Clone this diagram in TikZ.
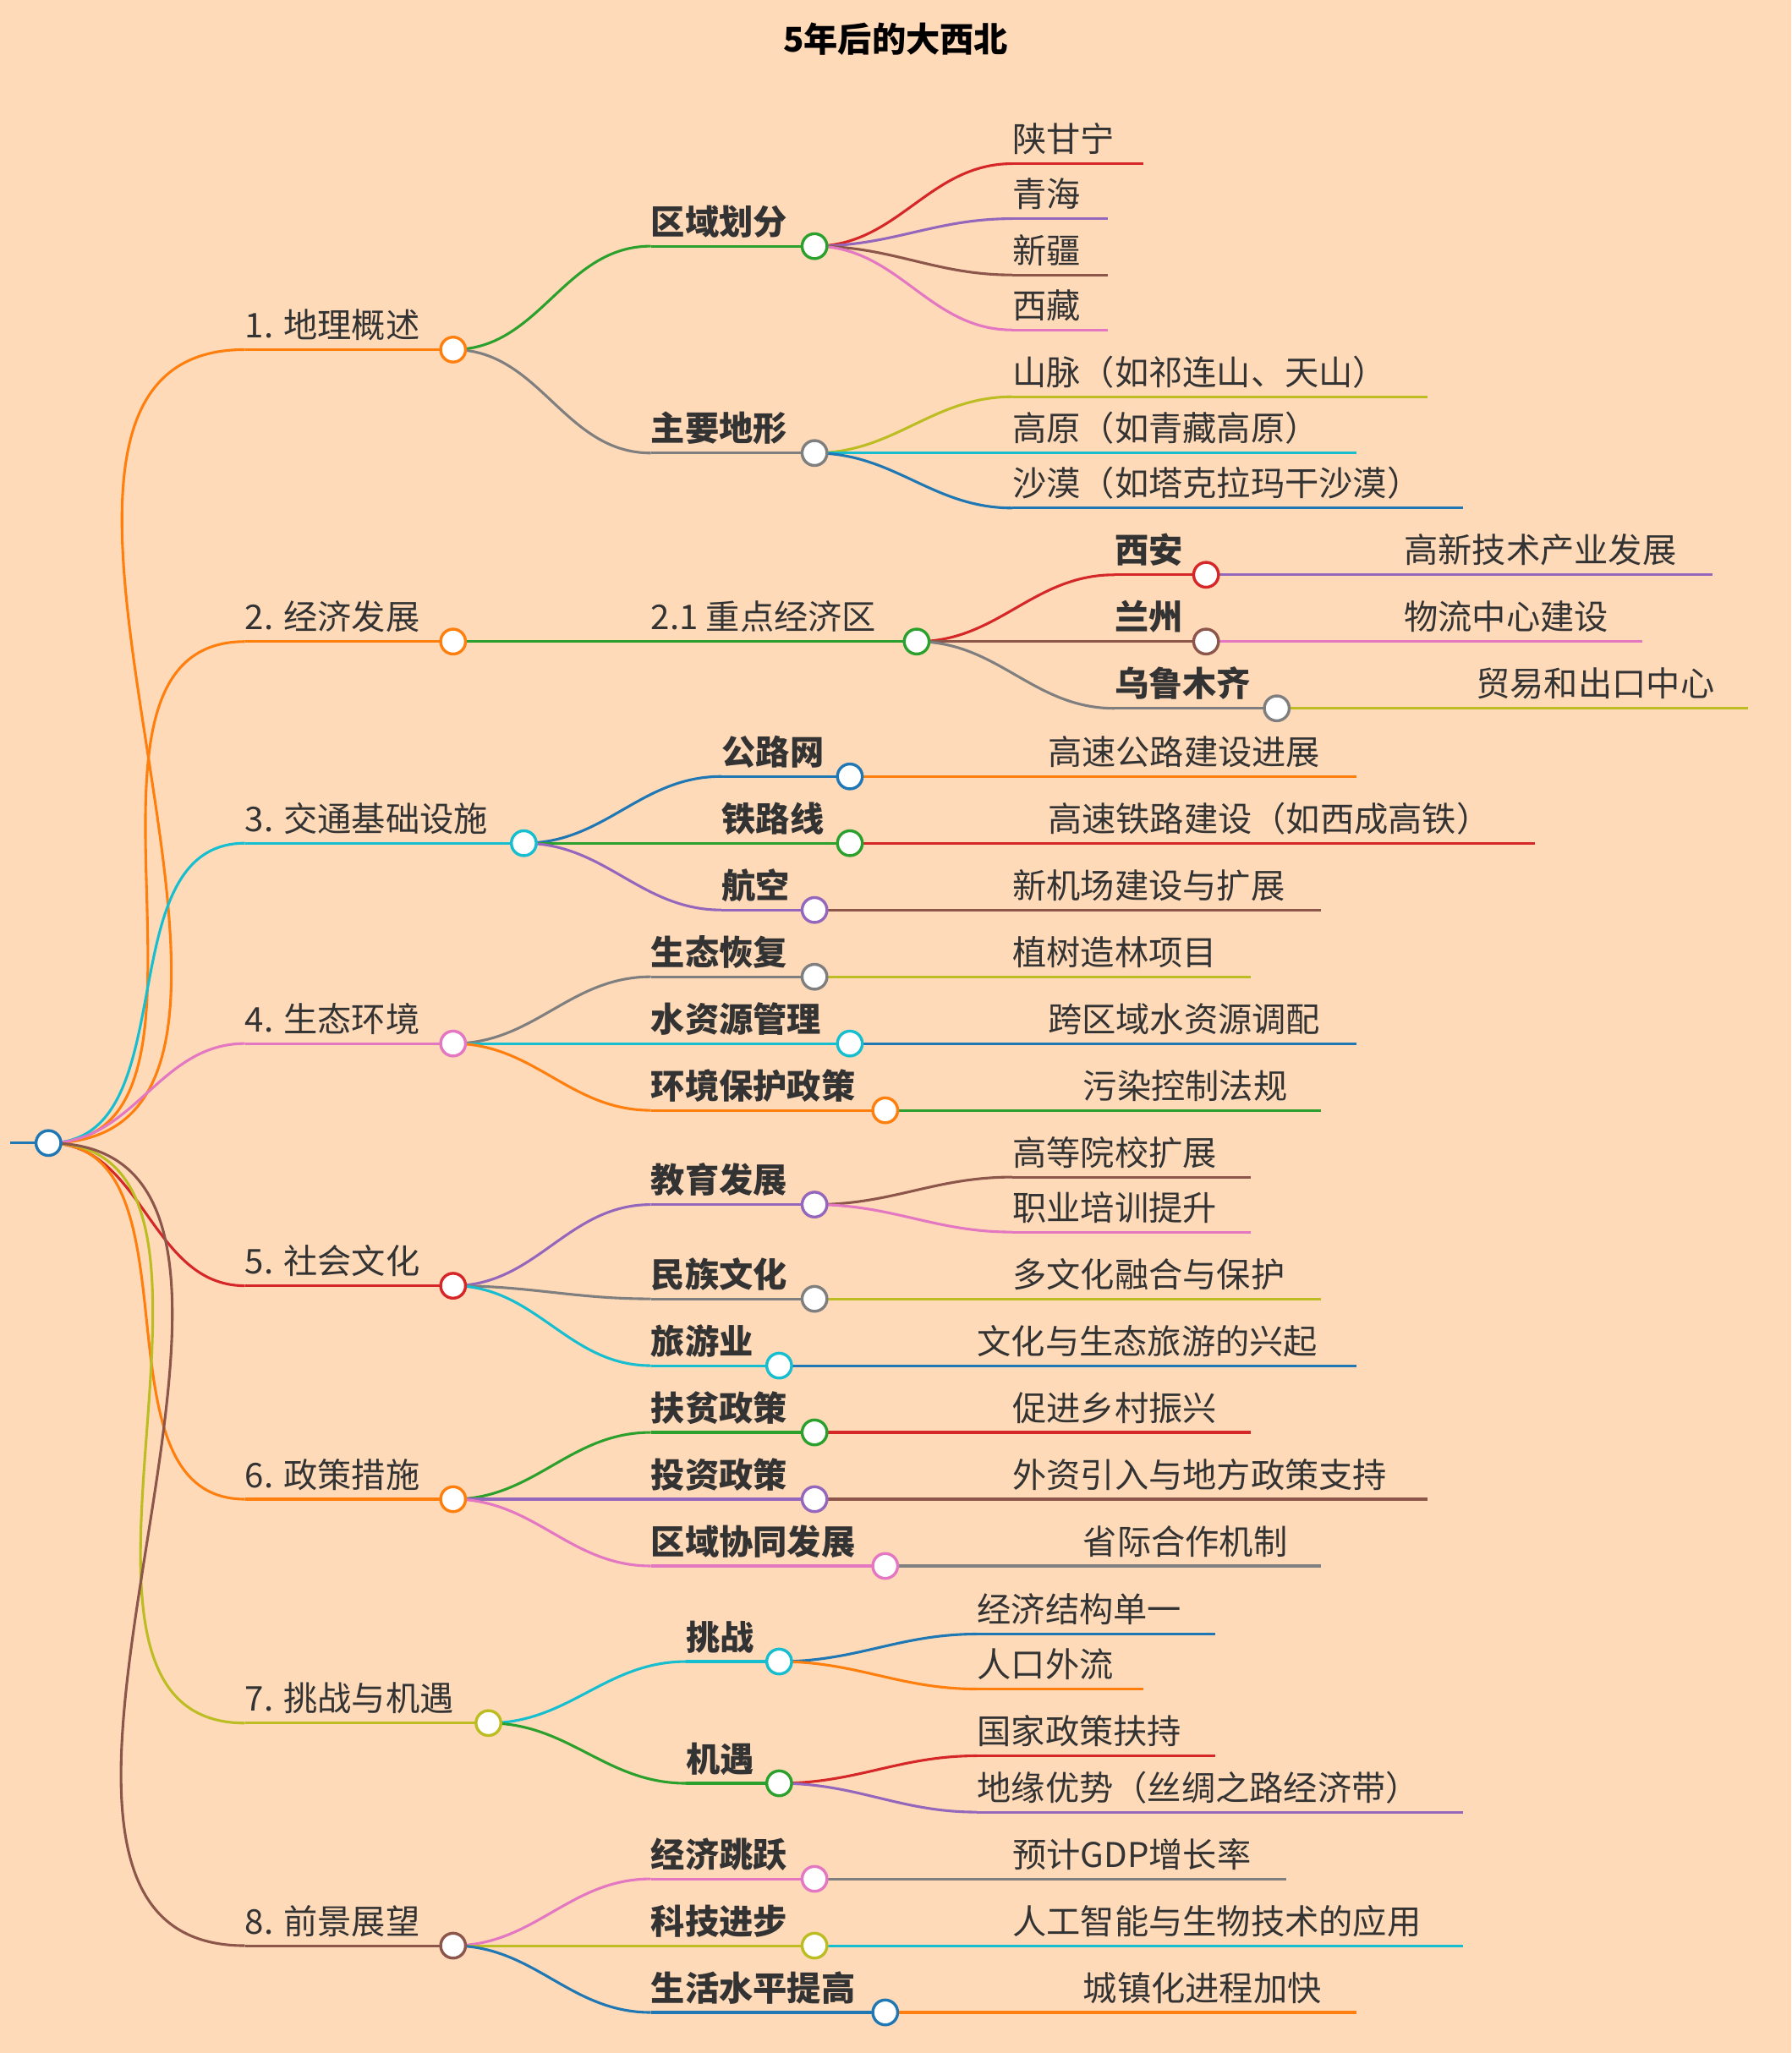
\documentclass[tikz,border=0pt]{standalone}
\usepackage{fontspec}
\setmainfont{Noto Sans CJK SC}
\begin{document}
\begin{tikzpicture}[x=1pt,y=-1pt,
 lbl/.style={anchor=base west,inner sep=0,text=black!80},
 circ/.style={circle,fill=white,minimum size=19pt,inner sep=0,line width=2.2pt},
 ln/.style={line width=2pt}]
\definecolor{bg}{HTML}{FFDAB9}
\definecolor{cor}{HTML}{FF7F0E}\definecolor{cgr}{HTML}{2CA02C}\definecolor{cgy}{HTML}{7F7F7F}
\definecolor{cre}{HTML}{D62728}\definecolor{cpu}{HTML}{9467BD}\definecolor{cbr}{HTML}{8C564B}
\definecolor{cpi}{HTML}{E377C2}\definecolor{col}{HTML}{BCBD22}\definecolor{ccy}{HTML}{17BECF}
\definecolor{cbl}{HTML}{1F77B4}
\fill[bg] (0,0) rectangle (1368,1568);
\useasboundingbox (0,0) rectangle (1368,1568);
\newcommand\nd[7]{\coordinate (#1s) at (#2,#4); \coordinate (#1e) at (#3,#4);
 \draw[#5,ln] (#1s)--(#1e);
 \node[lbl,font=\fontsize{26}{30}\selectfont#6] (#1) at (#2,#4-9) {#7};}
\newcommand\cn[3]{\draw[#3,ln] (#1e) to[out=0,in=180] (#2s);}
\newcommand\knot[2]{\node[circ,draw=#2] at (#1e) {};}
\node[font=\fontsize{26}{30}\selectfont\bfseries] (title) at (684,30) {5年后的大西北};
\coordinate (rts) at (8,873); \coordinate (rte) at (37,873);
\draw[cbl,ln] (rts)--(rte);
% level 1
\nd{a}{187}{346}{267}{cor}{}{1. 地理概述}
\nd{b}{187}{346}{490}{cor}{}{2. 经济发展}
\nd{c}{187}{400}{644}{ccy}{}{3. 交通基础设施}
\nd{d}{187}{346}{797}{cpi}{}{4. 生态环境}
\nd{e}{187}{346}{982}{cre}{}{5. 社会文化}
\nd{f}{187}{346}{1145}{cor}{}{6. 政策措施}
\nd{g}{187}{373}{1316}{col}{}{7. 挑战与机遇}
\nd{h}{187}{346}{1486}{cbr}{}{8. 前景展望}
\foreach \n/\c in {a/cor,b/cor,c/ccy,d/cpi,e/cre,f/cor,g/col,h/cbr}{\cn{rt}{\n}{\c}}
% 1
\nd{a1}{497}{622}{188}{cgr}{\bfseries}{区域划分}\cn{a}{a1}{cgr}
\nd{a11}{773}{873}{125}{cre}{}{陕甘宁}\cn{a1}{a11}{cre}
\nd{a12}{773}{846}{167}{cpu}{}{青海}\cn{a1}{a12}{cpu}
\nd{a13}{773}{846}{210}{cbr}{}{新疆}\cn{a1}{a13}{cbr}
\nd{a14}{773}{846}{252}{cpi}{}{西藏}\cn{a1}{a14}{cpi}
\nd{a2}{497}{622}{346}{cgy}{\bfseries}{主要地形}\cn{a}{a2}{cgy}
\nd{a21}{773}{1090}{303}{col}{}{山脉（如祁连山、天山）}\cn{a2}{a21}{col}
\nd{a22}{773}{1036}{346}{ccy}{}{高原（如青藏高原）}\cn{a2}{a22}{ccy}
\nd{a23}{773}{1117}{388}{cbl}{}{沙漠（如塔克拉玛干沙漠）}\cn{a2}{a23}{cbl}
% 2
\nd{b1}{497}{700}{490}{cgr}{}{2.1 重点经济区}\cn{b}{b1}{cgr}
\nd{b11}{851}{921}{439}{cre}{\bfseries}{西安}\cn{b1}{b11}{cre}
\nd{b111}{1072}{1308}{439}{cpu}{}{高新技术产业发展}\cn{b11}{b111}{cpu}
\nd{b12}{851}{921}{490}{cbr}{\bfseries}{兰州}\cn{b1}{b12}{cbr}
\nd{b121}{1072}{1254}{490}{cpi}{}{物流中心建设}\cn{b12}{b121}{cpi}
\nd{b13}{851}{975}{541}{cgy}{\bfseries}{乌鲁木齐}\cn{b1}{b13}{cgy}
\nd{b131}{1127}{1335}{541}{col}{}{贸易和出口中心}\cn{b13}{b131}{col}
% 3
\nd{c1}{551}{649}{593}{cbl}{\bfseries}{公路网}\cn{c}{c1}{cbl}
\nd{c11}{800}{1036}{593}{cor}{}{高速公路建设进展}\cn{c1}{c11}{cor}
\nd{c2}{551}{649}{644}{cgr}{\bfseries}{铁路线}\cn{c}{c2}{cgr}
\nd{c21}{800}{1172}{644}{cre}{}{高速铁路建设（如西成高铁）}\cn{c2}{c21}{cre}
\nd{c3}{551}{622}{695}{cpu}{\bfseries}{航空}\cn{c}{c3}{cpu}
\nd{c31}{773}{1009}{695}{cbr}{}{新机场建设与扩展}\cn{c3}{c31}{cbr}
% 4
\nd{d1}{497}{622}{746}{cgy}{\bfseries}{生态恢复}\cn{d}{d1}{cgy}
\nd{d11}{773}{955}{746}{col}{}{植树造林项目}\cn{d1}{d11}{col}
\nd{d2}{497}{649}{797}{ccy}{\bfseries}{水资源管理}\cn{d}{d2}{ccy}
\nd{d21}{800}{1036}{797}{cbl}{}{跨区域水资源调配}\cn{d2}{d21}{cbl}
\nd{d3}{497}{676}{848}{cor}{\bfseries}{环境保护政策}\cn{d}{d3}{cor}
\nd{d31}{827}{1009}{848}{cgr}{}{污染控制法规}\cn{d3}{d31}{cgr}
% 5
\nd{e1}{497}{622}{920}{cpu}{\bfseries}{教育发展}\cn{e}{e1}{cpu}
\nd{e11}{773}{955}{899}{cbr}{}{高等院校扩展}\cn{e1}{e11}{cbr}
\nd{e12}{773}{955}{941}{cpi}{}{职业培训提升}\cn{e1}{e12}{cpi}
\nd{e2}{497}{622}{992}{cgy}{\bfseries}{民族文化}\cn{e}{e2}{cgy}
\nd{e21}{773}{1009}{992}{col}{}{多文化融合与保护}\cn{e2}{e21}{col}
\nd{e3}{497}{595}{1043}{ccy}{\bfseries}{旅游业}\cn{e}{e3}{ccy}
\nd{e31}{746}{1036}{1043}{cbl}{}{文化与生态旅游的兴起}\cn{e3}{e31}{cbl}
% 6
\nd{f1}{497}{622}{1094}{cgr}{\bfseries}{扶贫政策}\cn{f}{f1}{cgr}
\nd{f11}{773}{955}{1094}{cre}{}{促进乡村振兴}\cn{f1}{f11}{cre}
\nd{f2}{497}{622}{1145}{cpu}{\bfseries}{投资政策}\cn{f}{f2}{cpu}
\nd{f21}{773}{1090}{1145}{cbr}{}{外资引入与地方政策支持}\cn{f2}{f21}{cbr}
\nd{f3}{497}{676}{1196}{cpi}{\bfseries}{区域协同发展}\cn{f}{f3}{cpi}
\nd{f31}{827}{1009}{1196}{cgy}{}{省际合作机制}\cn{f3}{f31}{cgy}
% 7
\nd{g1}{524}{595}{1269}{ccy}{\bfseries}{挑战}\cn{g}{g1}{ccy}
\nd{g11}{746}{928}{1248}{cbl}{}{经济结构单一}\cn{g1}{g11}{cbl}
\nd{g12}{746}{873}{1290}{cor}{}{人口外流}\cn{g1}{g12}{cor}
\nd{g2}{524}{595}{1362}{cgr}{\bfseries}{机遇}\cn{g}{g2}{cgr}
\nd{g21}{746}{928}{1341}{cre}{}{国家政策扶持}\cn{g2}{g21}{cre}
\nd{g22}{746}{1117}{1384}{cpu}{}{地缘优势（丝绸之路经济带）}\cn{g2}{g22}{cpu}
% 8
\nd{h1}{497}{622}{1435}{cpi}{\bfseries}{经济跳跃}\cn{h}{h1}{cpi}
\nd{h11}{773}{982}{1435}{cgy}{}{预计GDP增长率}\cn{h1}{h11}{cgy}
\nd{h2}{497}{622}{1486}{col}{\bfseries}{科技进步}\cn{h}{h2}{col}
\nd{h21}{773}{1117}{1486}{ccy}{}{人工智能与生物技术的应用}\cn{h2}{h21}{ccy}
\nd{h3}{497}{676}{1537}{cbl}{\bfseries}{生活水平提高}\cn{h}{h3}{cbl}
\nd{h31}{827}{1036}{1537}{cor}{}{城镇化进程加快}\cn{h3}{h31}{cor}
% knots
\knot{rt}{cbl}
\foreach \n/\c in {a/cor,b/cor,c/ccy,d/cpi,e/cre,f/cor,g/col,h/cbr,
 a1/cgr,a2/cgy,b1/cgr,b11/cre,b12/cbr,b13/cgy,c1/cbl,c2/cgr,c3/cpu,
 d1/cgy,d2/ccy,d3/cor,e1/cpu,e2/cgy,e3/ccy,f1/cgr,f2/cpu,f3/cpi,
 g1/ccy,g2/cgr,h1/cpi,h2/col,h3/cbl}{\knot{\n}{\c}}
\end{tikzpicture}
\end{document}
